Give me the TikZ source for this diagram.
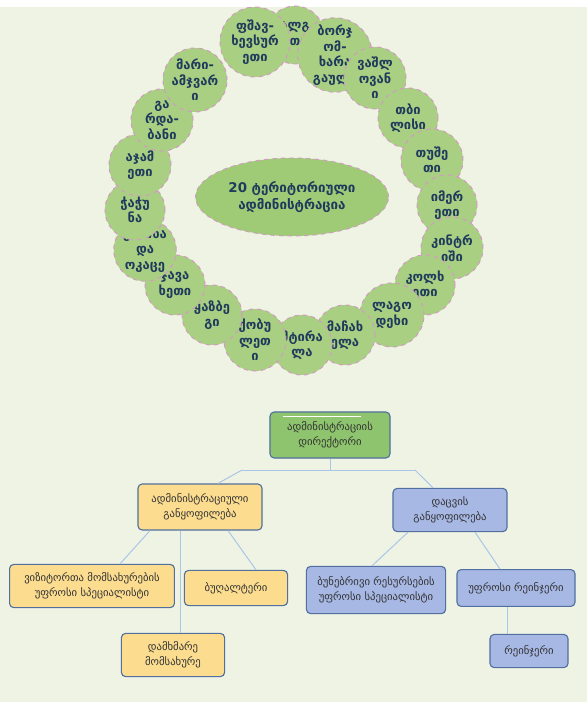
\documentclass[tikz,border=0pt]{standalone}
\usepackage{fontspec}
\setmainfont{DejaVu Sans}
\usetikzlibrary{shapes.geometric,calc}

\definecolor{bgpale}{HTML}{EEF3E3}
\definecolor{leaf}{HTML}{A9CF82}
\definecolor{oval}{HTML}{9FCB76}
\definecolor{ink}{HTML}{1F3A5C}
\definecolor{ringpink}{HTML}{D49AC6}
\definecolor{wire}{HTML}{A9C5E8}
\definecolor{edgeblue}{HTML}{51709F}
\definecolor{boxyellow}{HTML}{FCDD90}
\definecolor{boxblue}{HTML}{A8B8E5}
\definecolor{boxgreen}{HTML}{8EC46D}

\tikzstyle{region} = [circle,fill=leaf,draw=ringpink,dashed,line width=0.7pt,inner sep=0pt,align=center,text=ink,font=\fontsize{9.2}{11}\selectfont\bfseries]
\tikzstyle{hubnode} = [ellipse,fill=oval,draw=ringpink,dashed,line width=0.7pt,minimum width=4.6cm,minimum height=1.95cm,align=center,text=ink,font=\fontsize{9.5}{12.5}\selectfont\bfseries]
\tikzstyle{post} = [rectangle,rounded corners=3pt,draw=edgeblue,line width=0.8pt,align=center,inner sep=2pt,text=black!80,font=\fontsize{7.6}{10.5}\selectfont]
\tikzstyle{adminbox} = [post,fill=boxyellow]
\tikzstyle{guardbox} = [post,fill=boxblue]
\tikzstyle{headbox} = [post,fill=boxgreen]
\tikzstyle{wireline} = [wire,line width=0.7pt]

\begin{document}
\begin{tikzpicture}[x=0.025cm,y=-0.025cm]
\fill[bgpale] (0,0) rectangle (587,702);
\fill[white] (0,0) rectangle (587,7);

% twenty protected areas round the centre
\foreach \x/\y/\r/\t [count=\i] in {
	295/35/1.45/{ალგ\\ეთი},
	335/55/1.65/{ბორჯ\\ომ-\\ხარა\\გაული},
	375/78/1.55/{ვაშლ\\ოვან\\ი},
	408/118/1.5/{თბი\\ლისი},
	432/160/1.55/{თუშე\\თი},
	447/205/1.5/{იმერ\\ეთი},
	452/248/1.55/{კინტრ\\იში},
	425/285/1.5/{კოლხ\\ეთი},
	392/315/1.6/{ლაგო\\დეხი},
	345/335/1.5/{მაჩახ\\ელა},
	302/345/1.5/{მტირა\\ლა},
	255/340/1.55/{ქობუ\\ლეთ\\ი},
	212/315/1.5/{ყაზბე\\გი},
	175/285/1.5/{ჯავა\\ხეთი},
	145/250/1.55/{კინჩხა\\და\\ოკაცე},
	135/210/1.5/{ჭაჭუ\\ნა},
	140/165/1.55/{აჯამ\\ეთი},
	162/120/1.55/{გა\\რდა-\\ბანი},
	195/80/1.6/{მარი-\\ამჯვარ\\ი},
	255/42/1.75/{ფშავ-\\ხევსურ\\ეთი}} {
	\node[region,minimum size=\r cm] (area\i) at (\x,\y) {\t};
}
\node[hubnode] (centre) at (292,197) {20 ტერიტორიული\\ადმინისტრაცია};

% staff chart
\node[headbox,minimum width=3cm,minimum height=1.15cm] (dir) at (330,435) {ადმინისტრაციის\\დირექტორი};
\draw[white,line width=1.2pt] ($(dir.north west)+(14,5)$) -- ($(dir.north east)+(-30,5)$);
\node[adminbox,minimum width=3.1cm,minimum height=1.15cm] (adm) at (200,507) {ადმინისტრაციული\\განყოფილება};
\node[guardbox,minimum width=2.85cm,minimum height=1.08cm] (grd) at (450,510) {დაცვის\\განყოფილება};
\node[adminbox,minimum width=4.12cm,minimum height=1.08cm] (viz) at (92,586) {ვიზიტორთა მომსახურების\\უფროსი სპეციალისტი};
\node[adminbox,minimum width=2.58cm,minimum height=0.88cm] (bug) at (236,588) {ბუღალტერი};
\node[adminbox,minimum width=2.58cm,minimum height=1.08cm] (dam) at (173,655) {დამხმარე\\მომსახურე};
\node[guardbox,minimum width=3.48cm,minimum height=1.18cm] (bun) at (376,590) {ბუნებრივი რესურსების\\უფროსი სპეციალისტი};
\node[guardbox,minimum width=2.95cm,minimum height=0.92cm] (ufr) at (516,588) {უფროსი რეინჯერი};
\node[guardbox,minimum width=1.95cm,minimum height=0.83cm] (rein) at (529,651) {რეინჯერი};

\coordinate (hub) at (330,470);
\coordinate (hubL) at (242,470);
\coordinate (hubR) at (415,470);
\draw[wireline] (dir.south) -- (hub);
\draw[wireline] (hubL) -- (hubR);
\draw[wireline] (hubL) -- ($(adm.north)+(18,0)$);
\draw[wireline] (hubR) -- ($(grd.north)+(-17,0)$);
\draw[wireline] ($(adm.south)+(-50,0)$) -- ($(viz.north)+(28,0)$);
\draw[wireline] ($(adm.south)+(-20,0)$) -- ($(dam.north)+(7,0)$);
\draw[wireline] ($(adm.south)+(28,0)$) -- ($(bug.north)+(20,0)$);
\draw[wireline] ($(grd.south)+(-42,0)$) -- ($(bun.north)+(-4,0)$);
\draw[wireline] ($(grd.south)+(25,0)$) -- ($(ufr.north)+(-16,0)$);
\draw[wireline] ($(ufr.south)+(-9,0)$) -- ($(rein.north)+(-22,0)$);
\end{tikzpicture}
\end{document}
